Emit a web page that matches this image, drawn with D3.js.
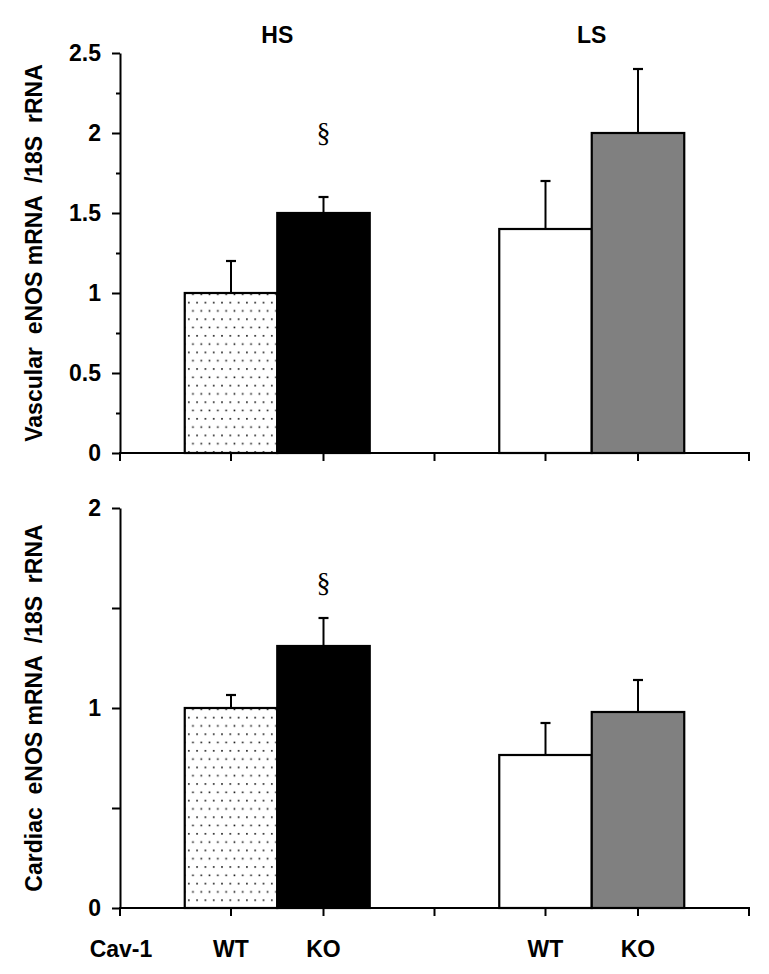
<!DOCTYPE html>
<html>
<head>
<meta charset="utf-8">
<script src="https://cdn.jsdelivr.net/npm/d3@7"></script>
<style>
  html, body { margin: 0; padding: 0; background: #fff; }
  svg { display: block; }
  text { font-family: "Liberation Sans", Arial, sans-serif; font-weight: bold; fill: #000; }
</style>
</head>
<body>
<svg id="chart" width="769" height="974"></svg>
<script>
// ---- data ----
const groups = ["HS", "LS"];
const genotypes = ["WT", "KO"];
const xLabelTitle = "Cav-1";
const vascularValues = [1.0, 1.5, 1.4, 2.0];
const vascularErrors = [0.2, 0.1, 0.3, 0.4];
const vascularSignif = ["", "§", "", ""];
const vascularTicks = [0, 0.5, 1, 1.5, 2, 2.5];
const vascularTickLabels = ["0", "0.5", "1", "1.5", "2", "2.5"];
const vascularMinorTicks = [0.25, 0.75, 1.25, 1.75, 2.25];
const cardiacValues = [1.0, 1.31, 0.765, 0.98];
const cardiacErrors = [0.065, 0.14, 0.16, 0.16];
const cardiacSignif = ["", "§", "", ""];
const cardiacTicks = [0, 1, 2];
const cardiacTickLabels = ["0", "1", "2"];
const cardiacMinorTicks = [0.5, 1.5];
const vascularTitle = "Vascular  eNOS mRNA  /18S  rRNA";
const cardiacTitle = "Cardiac  eNOS mRNA  /18S  rRNA";

// ---- layout ----
const svg = d3.select("#chart");
const axisX = 120, axisRight = 749;
const fills = { "HS-WT": "url(#stipple)", "HS-KO": "#000000", "LS-WT": "#ffffff", "LS-KO": "#808080" };

const defs = svg.append("defs");
const pat = defs.append("pattern").attr("id", "stipple").attr("patternUnits", "userSpaceOnUse")
  .attr("width", 8.3).attr("height", 16.6).attr("x", 187).attr("y", 0);
pat.append("rect").attr("width", 8.3).attr("height", 16.6).attr("fill", "#fff");
pat.append("rect").attr("x", 1).attr("y", 3).attr("width", 1.6).attr("height", 1.6).attr("fill", "#111");
pat.append("rect").attr("x", 5.15).attr("y", 11.3).attr("width", 1.6).attr("height", 1.6).attr("fill", "#111");

const x0 = d3.scaleBand().domain(groups).range([axisX, axisRight]).padding(0);
const x1 = d3.scaleBand().domain(genotypes).range([0, x0.bandwidth()]).paddingInner(0).paddingOuter(0.7);

function rows(values, errors, signif) {
  const out = [];
  groups.forEach((g, gi) => genotypes.forEach((t, ti) => {
    const i = gi * genotypes.length + ti;
    out.push({ group: g, geno: t, value: values[i], err: errors[i], sig: signif[i] });
  }));
  return out;
}

function panel(cfg) {
  const y = d3.scaleLinear().domain(cfg.domain).range([cfg.y0, cfg.y1]);
  const g = svg.append("g");
  const data = rows(cfg.values, cfg.errors, cfg.signif);

  // bars
  g.selectAll("rect.bar").data(data).join("rect").attr("class", "bar")
    .attr("x", d => x0(d.group) + x1(d.geno))
    .attr("y", d => y(d.value))
    .attr("width", x1.bandwidth())
    .attr("height", d => y(0) - y(d.value))
    .attr("fill", d => fills[d.group + "-" + d.geno])
    .attr("stroke", "#000").attr("stroke-width", 2.2);

  // error bars
  const cx = d => x0(d.group) + x1(d.geno) + x1.bandwidth() / 2;
  g.selectAll("line.err").data(data).join("line").attr("class", "err")
    .attr("x1", cx).attr("x2", cx)
    .attr("y1", d => y(d.value)).attr("y2", d => y(d.value + d.err))
    .attr("stroke", "#000").attr("stroke-width", 2);
  g.selectAll("line.cap").data(data).join("line").attr("class", "cap")
    .attr("x1", d => cx(d) - 5).attr("x2", d => cx(d) + 5)
    .attr("y1", d => y(d.value + d.err)).attr("y2", d => y(d.value + d.err))
    .attr("stroke", "#000").attr("stroke-width", 2.2);

  // significance
  g.selectAll("text.sig").data(data.filter(d => d.sig)).join("text").attr("class", "sig")
    .attr("x", cx).attr("y", d => y(d.value + d.err) - cfg.sigOffset)
    .attr("text-anchor", "middle")
    .style("font-family", "'Liberation Serif', 'Times New Roman', serif")
    .style("font-weight", "normal").style("font-size", "28px")
    .text(d => d.sig);

  // y axis
  const ya = g.append("g").attr("transform", `translate(${axisX},0)`)
    .call(d3.axisLeft(y).tickValues(cfg.ticks).tickFormat((d, i) => cfg.tickLabels[i])
      .tickSize(8).tickSizeOuter(0).tickPadding(11));
  ya.select(".domain").attr("stroke-width", 2);
  ya.selectAll(".tick line").attr("stroke-width", 2);
  ya.selectAll(".tick text").style("font-size", "23px").style("font-family", "'Liberation Sans', Arial, sans-serif").style("font-weight", "bold");
  const ym = g.append("g").attr("transform", `translate(${axisX},0)`)
    .call(d3.axisLeft(y).tickValues(cfg.minor).tickFormat("").tickSize(cfg.minorSize).tickSizeOuter(0));
  ym.select(".domain").remove();
  ym.selectAll(".tick line").attr("stroke-width", 2);

  // x axis line and ticks
  g.append("line").attr("x1", axisX - 1).attr("x2", axisRight + 1)
    .attr("y1", y(0)).attr("y2", y(0)).attr("stroke", "#000").attr("stroke-width", 2);
  const tickXs = [axisX, axisRight, x0("LS")].concat(data.map(cx));
  g.selectAll("line.xt").data(tickXs).join("line").attr("class", "xt")
    .attr("x1", d => d).attr("x2", d => d)
    .attr("y1", y(0)).attr("y2", y(0) + 8)
    .attr("stroke", "#000").attr("stroke-width", 2);

  // y title
  g.append("text")
    .attr("transform", `translate(42,${(cfg.y0 + cfg.y1) / 2}) rotate(-90)`)
    .attr("text-anchor", "middle")
    .style("font-size", "23px").style("white-space", "pre")
    .attr("xml:space", "preserve")
    .text(cfg.title);
  return { y, data, cx };
}

const topPanel = panel({
  domain: [0, 2.5], y0: 453, y1: 53, values: vascularValues, errors: vascularErrors, signif: vascularSignif,
  ticks: vascularTicks, tickLabels: vascularTickLabels, minor: vascularMinorTicks, minorSize: 4,
  title: vascularTitle, sigOffset: 55
});
const bottomPanel = panel({
  domain: [0, 2], y0: 908, y1: 508, values: cardiacValues, errors: cardiacErrors, signif: cardiacSignif,
  ticks: cardiacTicks, tickLabels: cardiacTickLabels, minor: cardiacMinorTicks, minorSize: 8,
  title: cardiacTitle, sigOffset: 26
});

// group labels on top
svg.selectAll("text.grp").data(groups).join("text").attr("class", "grp")
  .attr("x", d => x0(d) + x0.bandwidth() / 2).attr("y", 43)
  .attr("text-anchor", "middle").style("font-size", "23px")
  .text(d => d);

// genotype labels at bottom
svg.selectAll("text.geno").data(bottomPanel.data).join("text").attr("class", "geno")
  .attr("x", bottomPanel.cx).attr("y", 957)
  .attr("text-anchor", "middle").style("font-size", "23px")
  .text(d => d.geno);
svg.append("text").attr("x", axisX + 1).attr("y", 957).attr("text-anchor", "middle")
  .style("font-size", "23px").text(xLabelTitle);
</script>
</body>
</html>
